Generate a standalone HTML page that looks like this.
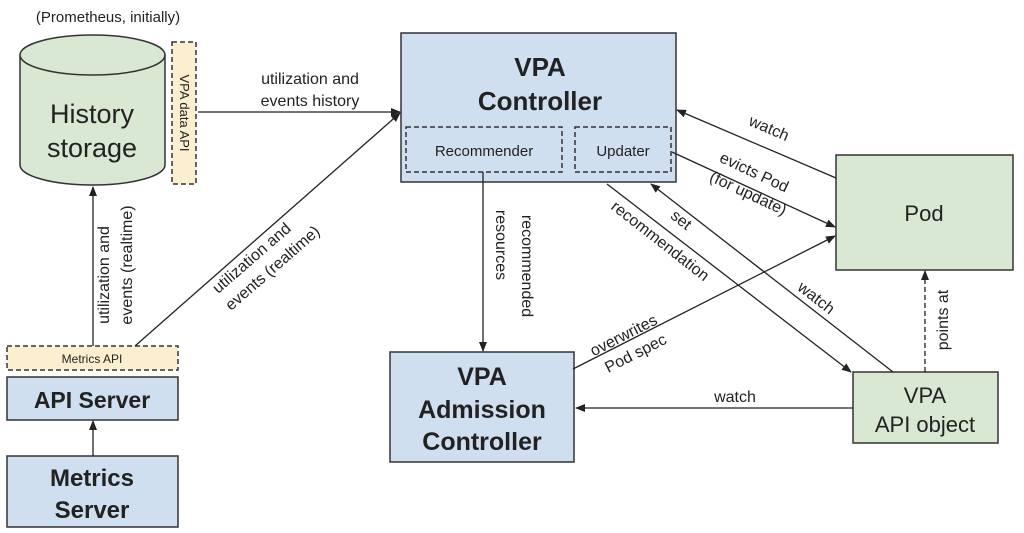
<!DOCTYPE html>
<html><head><meta charset="utf-8"><style>
html,body{margin:0;padding:0;background:#fff;}
svg{display:block;}
text{font-family:"Liberation Sans",Arial,sans-serif;fill:#222;}
</style></head><body>
<svg width="1024" height="533" viewBox="0 0 1024 533">
<defs>
<marker id="a" markerWidth="10" markerHeight="8" refX="9" refY="4" orient="auto" markerUnits="userSpaceOnUse">
<path d="M0,0 L10,4 L0,8 Z" fill="#222"/></marker>
</defs>
<g stroke="#333" stroke-width="1.5">
<path d="M20,55 L20,165 A72.5,20 0 0 0 165,165 L165,55" fill="#d9e8d3"/>
<ellipse cx="92.5" cy="55" rx="72.5" ry="20" fill="#d9e8d3"/>
<rect x="172" y="42" width="24" height="142" fill="#fcefcf" stroke-dasharray="5,3"/>
<rect x="7" y="346" width="171" height="24" fill="#fcefcf" stroke-dasharray="5,3"/>
<rect x="7" y="377" width="171" height="43" fill="#cfdff0"/>
<rect x="7" y="456" width="171" height="71" fill="#cfdff0"/>
<rect x="401" y="33" width="275" height="149" fill="#cfdff0"/>
<rect x="406" y="127" width="156" height="45" fill="none" stroke-dasharray="5,3"/>
<rect x="575" y="127" width="96" height="45" fill="none" stroke-dasharray="5,3"/>
<rect x="390" y="352" width="184" height="110" fill="#cfdff0"/>
<rect x="836" y="155" width="177" height="115" fill="#d9e8d3"/>
<rect x="853" y="372" width="145" height="71" fill="#d9e8d3"/>
</g>
<g stroke="#222" stroke-width="1.3" fill="none">
<line x1="198" y1="112" x2="400" y2="112" marker-end="url(#a)"/>
<line x1="135" y1="346" x2="400" y2="113" marker-end="url(#a)"/>
<line x1="93" y1="346" x2="93" y2="187" marker-end="url(#a)"/>
<line x1="93" y1="456" x2="93" y2="421" marker-end="url(#a)"/>
<line x1="483" y1="172" x2="483" y2="351" marker-end="url(#a)"/>
<line x1="836" y1="178" x2="677" y2="110" marker-end="url(#a)"/>
<line x1="672" y1="152" x2="835" y2="227" marker-end="url(#a)"/>
<line x1="573" y1="369" x2="835" y2="236" marker-end="url(#a)"/>
<line x1="607" y1="184" x2="851" y2="372" marker-end="url(#a)"/>
<line x1="893" y1="372" x2="651" y2="184" marker-end="url(#a)"/>
<line x1="925" y1="372" x2="925" y2="271" stroke-dasharray="5,3" marker-end="url(#a)"/>
<line x1="853" y1="408" x2="576" y2="408" marker-end="url(#a)"/>
</g>
<g text-anchor="middle">
<text x="108" y="22" font-size="15">(Prometheus, initially)</text>
<text x="92" y="123" font-size="27">History</text>
<text x="92" y="157" font-size="27">storage</text>
<text transform="translate(180,113) rotate(90)" font-size="13">VPA data API</text>
<text x="92" y="363" font-size="12">Metrics API</text>
<text x="92" y="408" font-size="23" font-weight="bold">API Server</text>
<text x="92" y="486" font-size="24" font-weight="bold">Metrics</text>
<text x="92" y="518" font-size="24" font-weight="bold">Server</text>
<text x="310" y="84" font-size="16">utilization and</text>
<text x="310" y="106" font-size="16">events history</text>
<text transform="translate(109,275) rotate(-90)" font-size="16">utilization and</text>
<text transform="translate(132,265) rotate(-90)" font-size="16">events (realtime)</text>
<text transform="translate(255,262) rotate(-41)" font-size="16">utilization and</text>
<text transform="translate(276,272) rotate(-41)" font-size="16">events (realtime)</text>
<text x="540" y="76" font-size="26" font-weight="bold">VPA</text>
<text x="540" y="110" font-size="26" font-weight="bold">Controller</text>
<text x="484" y="156" font-size="15">Recommender</text>
<text x="623" y="156" font-size="15">Updater</text>
<text transform="translate(496,245) rotate(90)" font-size="16">resources</text>
<text transform="translate(522,266) rotate(90)" font-size="16">recommended</text>
<text x="482" y="385" font-size="25" font-weight="bold">VPA</text>
<text x="482" y="418" font-size="25" font-weight="bold">Admission</text>
<text x="482" y="450" font-size="25" font-weight="bold">Controller</text>
<text transform="translate(767,133) rotate(23)" font-size="16">watch</text>
<text transform="translate(752,177) rotate(25)" font-size="16">evicts Pod</text>
<text transform="translate(746,198) rotate(25)" font-size="16">(for update)</text>
<text transform="translate(678,224) rotate(38)" font-size="16">set</text>
<text transform="translate(657,245) rotate(38)" font-size="16">recommendation</text>
<text transform="translate(813,302) rotate(38)" font-size="16">watch</text>
<text transform="translate(626,340) rotate(-27)" font-size="16">overwrites</text>
<text transform="translate(638,358) rotate(-27)" font-size="16">Pod spec</text>
<text x="735" y="402" font-size="16">watch</text>
<text transform="translate(948,320) rotate(-90)" font-size="16">points at</text>
<text x="924" y="221" font-size="22">Pod</text>
<text x="925" y="403" font-size="22">VPA</text>
<text x="925" y="432" font-size="22">API object</text>
</g>
</svg>
</body></html>
